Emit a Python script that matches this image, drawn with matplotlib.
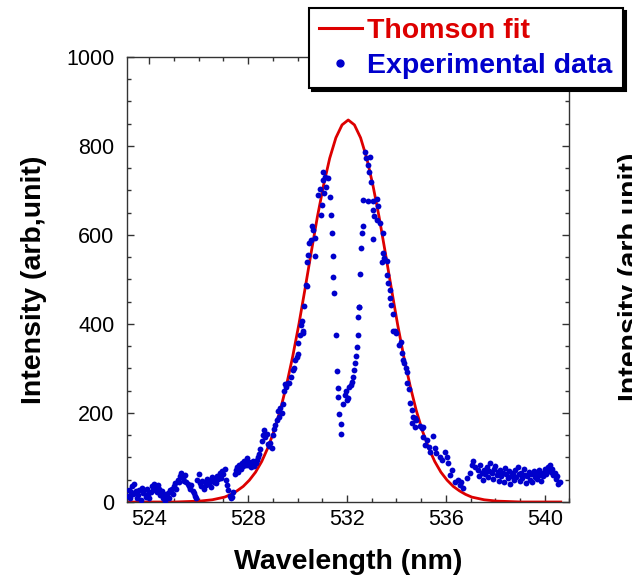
import matplotlib
matplotlib.use('Agg')
import numpy as np
import matplotlib.pyplot as plt
from matplotlib.lines import Line2D
from matplotlib.ticker import MultipleLocator

plt.rcParams['font.family'] = ['Liberation Sans', 'DejaVu Sans']

# %% Thomson fit
fit_wl = [523.10, 524.00, 525.05, 525.55, 526.05, 526.55, 527.05, 527.30, 527.55,
          527.80, 528.05, 528.30, 528.55, 528.80, 529.05, 529.30, 529.55, 529.80,
          530.05, 530.30, 530.55, 530.80, 531.05, 531.30, 531.55, 531.80, 532.05,
          532.30, 532.55, 532.80, 533.05, 533.30, 533.55, 533.80, 534.05, 534.30,
          534.55, 534.80, 535.05, 535.30, 535.55, 535.80, 536.05, 536.30, 536.55,
          536.80, 537.05, 537.55, 538.05, 538.55, 539.05, 540.00, 540.65]
fit_int = [0, 0, 0, 1, 2, 5, 11, 17, 25,
           35, 49, 67, 91, 122, 160, 206, 262, 326,
           398, 478, 560, 640, 711, 772, 818, 847, 858,
           847, 818, 772, 711, 640, 560, 478, 398, 326,
           262, 206, 160, 122, 91, 67, 49, 35, 25,
           17, 11, 5, 2, 1, 0, 0, 0]

# %% Experimental data (wavelength nm, intensity)
left_tail = [
    (523.12, 14), (523.16, 28), (523.20, 8), (523.25, 22), (523.30, 35), (523.35, 18),
    (523.40, 40), (523.45, 24), (523.50, 10), (523.55, 15), (523.60, 28), (523.65, 5),
    (523.70, 32), (523.75, 20), (523.80, 26), (523.85, 12), (523.90, 30), (523.95, 18),
    (524.00, 8), (524.05, 22), (524.10, 35), (524.15, 28), (524.20, 40), (524.25, 32),
    (524.30, 22), (524.35, 38), (524.40, 30), (524.45, 15), (524.50, 25), (524.55, 10),
    (524.60, 18), (524.65, 3), (524.70, 12), (524.75, 20), (524.80, 8), (524.85, 26),
    (524.90, 30), (524.95, 18), (525.00, 35), (525.05, 42), (525.10, 30), (525.15, 50),
    (525.20, 45), (525.25, 58), (525.30, 66), (525.35, 55), (525.40, 48), (525.45, 60),
    (525.50, 44), (525.55, 40), (525.60, 35), (525.65, 30), (525.70, 38), (525.75, 25),
    (525.80, 20), (525.85, 14), (525.90, 10), (525.95, 50), (526.00, 62), (526.05, 42),
    (526.10, 36), (526.15, 48), (526.20, 30), (526.25, 44), (526.30, 38), (526.35, 52),
    (526.40, 40), (526.45, 48), (526.50, 34), (526.55, 56), (526.60, 46), (526.65, 50),
    (526.70, 42), (526.75, 58), (526.80, 52), (526.85, 64), (526.90, 55), (526.95, 70),
    (527.00, 62), (527.05, 74), (527.10, 50), (527.15, 38), (527.20, 28), (527.25, 14),
    (527.30, 8), (527.35, 12), (527.40, 22), (527.45, 62), (527.50, 72), (527.55, 78),
    (527.60, 68), (527.65, 82), (527.70, 74), (527.75, 88), (527.80, 80), (527.85, 92),
    (527.90, 84), (527.95, 98), (528.00, 82), (528.05, 90), (528.10, 78), (528.15, 86),
    (528.20, 92), (528.25, 80), (528.30, 88), (528.35, 94), (528.40, 100), (528.45, 108),
]
left_wing = [
    (528.50, 120), (528.55, 136), (528.60, 150), (528.65, 162), (528.70, 145), (528.75, 152),
    (528.80, 130), (528.85, 126), (528.90, 132), (528.95, 122), (529.00, 150), (529.05, 165),
    (529.10, 172), (529.15, 185), (529.20, 205), (529.25, 192), (529.30, 210), (529.35, 200),
    (529.40, 220), (529.45, 250), (529.50, 265), (529.55, 258), (529.60, 268), (529.65, 268),
    (529.72, 280), (529.80, 296), (529.85, 300), (529.90, 318), (529.97, 325), (530.00, 332),
    (530.03, 358), (530.08, 375), (530.13, 398), (530.17, 407), (530.20, 380), (530.23, 383),
    (530.28, 441), (530.34, 488), (530.37, 484), (530.40, 540), (530.44, 555), (530.48, 581),
    (530.53, 589), (530.57, 620), (530.64, 611), (530.71, 592), (530.71, 553), (530.84, 690),
    (530.91, 703), (530.93, 644), (530.98, 667), (531.02, 723), (531.04, 742), (531.08, 694),
    (531.11, 731), (531.15, 708), (531.22, 727),
]
center_dip = [
    (531.31, 684), (531.34, 644), (531.38, 605), (531.42, 553), (531.45, 505), (531.49, 470),
    (531.56, 375), (531.58, 295), (531.62, 255), (531.65, 235), (531.69, 197), (531.75, 153),
    (531.76, 175), (531.85, 220), (531.90, 240), (531.95, 250), (532.00, 228), (532.05, 233),
    (532.10, 258), (532.16, 262), (532.20, 270), (532.23, 280), (532.27, 296), (532.33, 312),
    (532.37, 329), (532.42, 349), (532.45, 375), (532.46, 416), (532.48, 437), (532.50, 439),
    (532.53, 512), (532.57, 570), (532.62, 605), (532.63, 620), (532.66, 679), (532.73, 787),
    (532.76, 772), (532.86, 757), (532.90, 742), (532.93, 775), (532.97, 718),
]
right_wing = [
    (532.86, 675), (533.04, 675), (533.20, 680), (533.27, 664), (533.04, 656), (533.10, 643),
    (533.20, 634), (533.33, 626), (533.47, 605), (533.06, 590), (533.44, 560), (533.50, 548),
    (533.40, 540), (533.60, 542), (533.62, 510), (533.66, 492), (533.74, 476), (533.74, 458),
    (533.80, 443), (533.85, 422), (533.94, 383), (534.00, 379), (533.87, 385), (534.17, 360),
    (534.11, 353), (534.21, 334), (534.28, 319), (534.30, 312), (534.38, 300), (534.41, 291),
    (534.44, 267), (534.52, 253), (534.55, 222), (534.61, 207), (534.68, 192), (534.75, 188),
    (534.81, 184), (534.65, 177), (534.95, 171), (535.02, 166), (535.06, 169), (534.75, 169),
    (535.08, 147), (535.22, 139), (535.15, 128), (535.33, 124), (535.46, 148), (535.35, 113),
    (535.56, 121), (535.62, 109), (535.76, 102), (535.83, 94), (535.96, 113), (536.03, 102),
    (536.10, 87), (536.23, 72), (536.16, 61), (536.36, 46), (536.50, 49), (536.57, 38),
    (536.63, 46), (536.70, 31), (536.84, 53), (536.97, 64), (537.04, 83), (537.17, 79),
    (537.10, 91), (537.30, 72),
]
right_tail = [
    (537.35, 58), (537.40, 84), (537.45, 66), (537.50, 50), (537.55, 72), (537.60, 62),
    (537.65, 78), (537.70, 56), (537.75, 70), (537.80, 88), (537.85, 64), (537.90, 52),
    (537.95, 74), (538.00, 80), (538.05, 60), (538.10, 68), (538.15, 48), (538.20, 72),
    (538.25, 58), (538.30, 66), (538.35, 44), (538.40, 76), (538.45, 62), (538.50, 54),
    (538.55, 70), (538.60, 40), (538.65, 58), (538.70, 64), (538.75, 50), (538.80, 72),
    (538.85, 56), (538.90, 78), (538.95, 62), (539.00, 48), (539.05, 66), (539.10, 54),
    (539.15, 74), (539.20, 60), (539.25, 42), (539.30, 58), (539.35, 68), (539.40, 50),
    (539.45, 62), (539.50, 46), (539.55, 70), (539.60, 56), (539.65, 64), (539.70, 52),
    (539.75, 72), (539.80, 60), (539.85, 48), (539.90, 66), (539.95, 58), (540.00, 74),
    (540.05, 62), (540.10, 70), (540.15, 78), (540.20, 84), (540.25, 68), (540.30, 74),
    (540.35, 60), (540.40, 66), (540.45, 52), (540.50, 58), (540.55, 40), (540.60, 46),
]

exp = np.array(left_tail + left_wing + center_dip + right_wing + right_tail)

RED = '#DD0000'
BLUE = '#0000CC'

# %%
fig = plt.figure(figsize=(6.32, 5.79), dpi=100)
ax = fig.add_axes([0.201, 0.133, 0.700, 0.769])

ax.plot(fit_wl, fit_int, color=RED, lw=2.0, zorder=2)
ax.plot(exp[:, 0], exp[:, 1], 'o', color=BLUE, ms=4.2, mew=0, zorder=3)

ax.set_xlim(523.1, 541.0)
ax.set_ylim(0, 1000)
ax.xaxis.set_major_locator(MultipleLocator(4))
ax.xaxis.set_minor_locator(MultipleLocator(1))
ax.yaxis.set_major_locator(MultipleLocator(200))
ax.yaxis.set_minor_locator(MultipleLocator(50))
ax.tick_params(which='both', direction='in', top=True, right=True, width=1.0, color='#333333')
ax.tick_params(which='major', length=5, labelsize=15.5)
ax.tick_params(which='minor', length=3)
ax.tick_params(axis='x', pad=5)
ax.tick_params(axis='y', pad=9)
for s in ax.spines.values():
    s.set_linewidth(1.0); s.set_color('#333333')

ax.set_xlabel('Wavelength (nm)', fontsize=20.5, fontweight='bold', labelpad=14)
ax.set_ylabel('Intensity (arb,unit)', fontsize=20.5, fontweight='bold', labelpad=14)

# right edge: label of the neighbouring panel, cut by the image border
fig.text(618/632, 1 - 277/579, 'Intensity (arb,unit)', rotation=90, ha='left', va='center',
         fontsize=20.5, fontweight='bold')

handles = [Line2D([], [], color=RED, lw=2.2),
           Line2D([], [], ls='none', marker='o', color=BLUE, ms=5)]
leg = fig.legend(handles, ['Thomson fit', 'Experimental data'],
                 loc='upper left', bbox_to_anchor=(309/632, 0.5, 314/632, 0.5 - 8/579),
                 mode='expand', prop={'weight': 'bold', 'size': 20.5},
                 labelcolor=[RED, BLUE], frameon=True, fancybox=False,
                 shadow={'color': 'black', 'alpha': 1.0}, edgecolor='black',
                 framealpha=1, borderpad=0.35, handlelength=1.5, handletextpad=0.2,
                 labelspacing=0.3, borderaxespad=0, numpoints=1)
leg.get_frame().set_linewidth(1.5)

fig.savefig('out.png', dpi=100)
